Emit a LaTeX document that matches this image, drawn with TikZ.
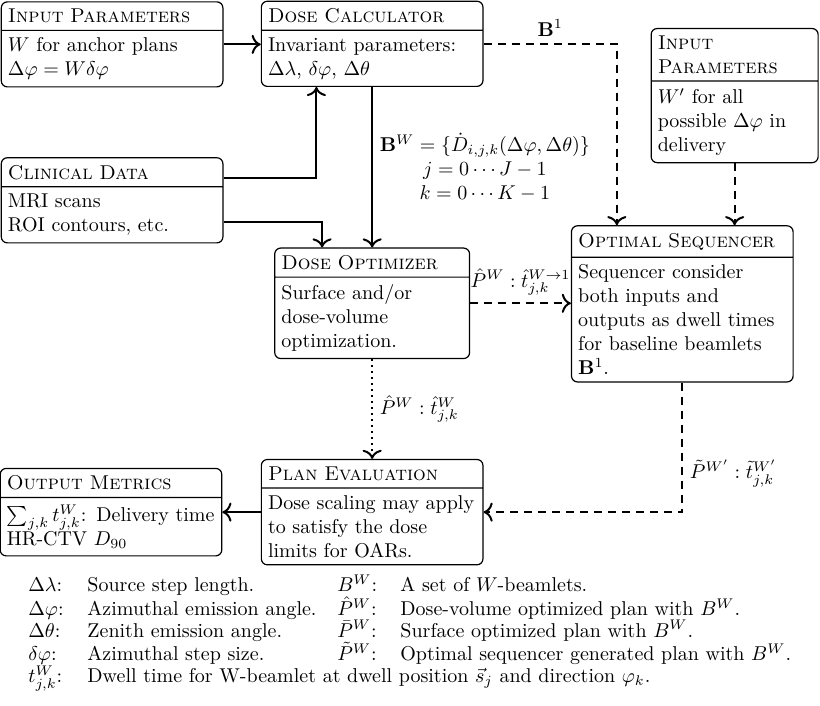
\documentclass[tikz,border=0pt]{standalone}
\usepackage{amsmath}
\usepackage{tikz}
\usetikzlibrary{shapes.multipart, arrows.meta, positioning}

\begin{document}
\begin{tikzpicture}[
    block/.style={rectangle split, rectangle split parts=2, draw, line width=0.6pt, rounded corners=3pt, text width=3.66cm, align=left},
    flow/.style={-{To[length=1.6mm]}, line width=1pt},
    feed/.style={-{To[length=1.6mm]}, line width=1pt, dash pattern=on 4pt off 3pt},
    pass/.style={-{To[length=1.6mm]}, line width=1pt, dotted}
]
    \useasboundingbox (0,0) rectangle (14.41,-12.39);

    % Blocks
    \node[block] (inA) at (1.97,-0.78) {\textsc{Input Parameters}
        \nodepart{two} $W$ for anchor plans\\ $\Delta\varphi = W\delta\varphi$};
    \node[block] (calc) at (6.54,-0.77) {\textsc{Dose Calculator}
        \nodepart{two} Invariant parameters:\\ $\Delta\lambda$, $\delta\varphi$, $\Delta\theta$};
    \node[block, text width=2.7cm] (inB) at (12.91,-1.68) {\textsc{Input\\ Parameters}
        \nodepart{two} $W'$ for all\\ possible $\Delta\varphi$ in\\ delivery};
    \node[block] (clin) at (1.97,-3.52) {\textsc{Clinical Data}
        \nodepart{two} MRI scans\\ ROI contours, etc.};
    \node[block, text width=3.19cm] (opt) at (6.54,-5.33) {\textsc{Dose Optimizer}
        \nodepart{two} Surface and/or\\ dose-volume\\ optimization.};
    \node[block] (seq) at (11.99,-5.34) {\textsc{Optimal Sequencer}
        \nodepart{two} Sequencer consider\\ both inputs and\\ outputs as dwell times\\ for baseline beamlets\\ $\mathbf{B}^1$.};
    \node[block] (plan) at (6.54,-9.0) {\textsc{Plan Evaluation}
        \nodepart{two} Dose scaling may apply\\ to satisfy the dose\\ limits for OARs.};
    \node[block] (out) at (1.95,-9.0) {\textsc{Output Metrics}
        \nodepart{two} $\sum_{j,k} t^W_{j,k}$: Delivery time\\ HR-CTV $D_{90}$};

    % Legend
    \node[anchor=north west, inner sep=0pt] (legend) at (0.49,-10.09) {\renewcommand{\arraystretch}{0.7}%
        \begin{tabular}{@{}p{1.04cm}@{}p{4.39cm}@{}p{1.11cm}@{}l@{}}
            $\Delta\lambda$: & Source step length. & $B^W$: & A set of $W$-beamlets.\\
            $\Delta\varphi$: & Azimuthal emission angle. & $\hat{P}^W$: & Dose-volume optimized plan with $B^W$.\\
            $\Delta\theta$: & Zenith emission angle. & $\bar{P}^W$: & Surface optimized plan with $B^W$.\\
            $\delta\varphi$: & Azimuthal step size. & $\tilde{P}^W$: & Optimal sequencer generated plan with $B^W$.\\
            $t^W_{j,k}$: & \multicolumn{3}{@{}l@{}}{Dwell time for W-beamlet at dwell position $\vec{s}_j$ and direction $\varphi_k$.}
        \end{tabular}};

    % Connections
    \draw[flow] (inA.east) -- (inA.east -| calc.west);
    \draw[flow] ([yshift=0.387cm]clin.east) -| ([xshift=-0.98cm]calc.south);
    \draw[flow] ([yshift=-0.387cm]clin.east) -| ([xshift=-0.88cm]opt.north);
    \draw[flow] (calc) -- node[midway, right, align=center]
        {$\mathbf{B}^W = \{\dot{D}_{i,j,k}(\Delta\varphi, \Delta\theta)\}$\\ $j = 0\cdots J-1$\\ $k = 0\cdots K-1$} (opt);
    \draw[feed] (calc.east) -| node[pos=0.25, above] {$\mathbf{B}^1$} ([xshift=-1.15cm]seq.north);
    \draw[feed] (inB.south) -- (inB.south |- seq.north);
    \draw[feed] (opt.east) -- node[above] {$\hat{P}^W : \hat{t}^{W\to 1}_{j,k}$} (opt.east -| seq.west);
    \draw[pass] (opt) -- node[right] {$\hat{P}^W : \hat{t}^W_{j,k}$} (plan);
    \draw[feed] (seq.south) |- node[pos=0.35, right] {$\tilde{P}^{W'} : \tilde{t}^{W'}_{j,k}$} (plan.east);
    \draw[flow] (plan.west) -- (plan.west -| out.east);
\end{tikzpicture}
\end{document}
